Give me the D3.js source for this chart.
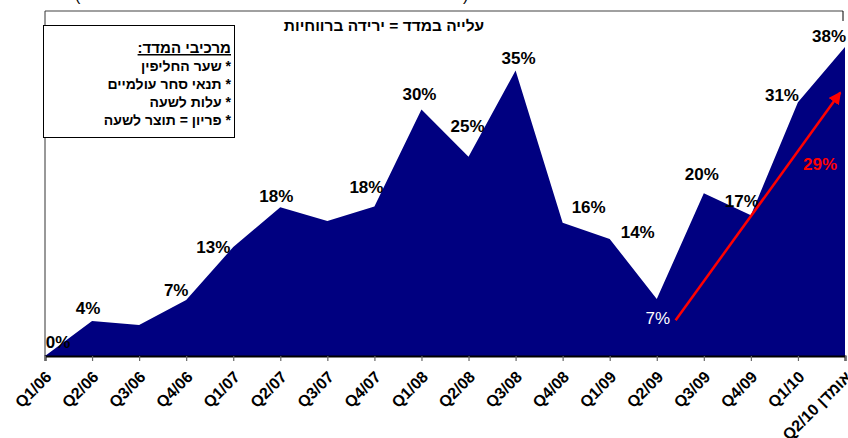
<!DOCTYPE html>
<html>
<head>
<meta charset="utf-8">
<script src="https://cdn.jsdelivr.net/npm/d3@7"></script>
<style>
  html, body { margin: 0; padding: 0; background: #fff; overflow: hidden; }
  svg { display: block; font-family: "Liberation Sans", Arial, "DejaVu Sans", sans-serif; }
</style>
</head>
<body>
<div id="chart"></div>
<script>
// quarters on the x axis
var categories = ['Q1/06','Q2/06','Q3/06','Q4/06','Q1/07','Q2/07','Q3/07','Q4/07',
   'Q1/08','Q2/08','Q3/08','Q4/08','Q1/09','Q2/09','Q3/09','Q4/09','Q1/10','Q2/10 אומדן'];
// index values (%)
var values = [0, 4.3, 3.8, 6.9, 13.4, 18.3, 16.6, 18.4, 30.3, 24.5, 35.1, 16.4, 14.4, 7.0, 20.0, 17.3, 31.2, 38.0];
// printed labels ('' = none shown)
var dataLabels = ['0%','4%','','7%','13%','18%','','18%','30%','25%','35%','16%','14%','7%','20%','17%','31%','38%'];
var legendLines = ['מרכיבי המדד:', '* שער החליפין', '* תנאי סחר עולמיים', '* עלות לשעה', '* פריון = תוצר לשעה'];
var title = 'עלייה במדד = ירידה ברווחיות';
// arrow annotation, in data units (category index, %)
var arrowFrom = [13.4, 4.4], arrowTo = [16.9, 32.4];
var arrowText = '29%', arrowTextAt = [16.47, 23.5];

// label nudges in px (Excel hand placed them)
var nudge = [[13,-14],[-4,-13],[0,0],[-10,-9],[-20,0],[-4,-11],[0,0],[-8,-19],[-2,-15],[-1,-30],
   [3,-12],[26,-15],[28,-6],[1,19],[-2,-19],[-9,-14],[-16,-7],[-16,-11]];

var width = 848, height = 438;
var svg = d3.select('#chart').append('svg')
   .attr('width', width)
   .attr('height', height);

var x = d3.scaleLinear().domain([0, categories.length - 1]).range([45, 845]);
var y = d3.scaleLinear().domain([0, 38]).range([356, 47]);
var plotTop = 11;

// clipped line of text above the chart (only parentheses visible)
svg.append('text').attr('x', 75).attr('y', 1).style('font-size', '16px').text('(');
svg.append('text').attr('x', 463).attr('y', 1).style('font-size', '16px').text(')');

// plot frame
svg.append('line')
   .attr('x1', x(0)).attr('x2', x(categories.length - 1) - 2)
   .attr('y1', plotTop).attr('y2', plotTop)
   .attr('stroke', '#808080').attr('stroke-width', 1.5);
svg.append('line')
   .attr('x1', x(categories.length - 1) - 2).attr('x2', x(categories.length - 1) - 2)
   .attr('y1', plotTop).attr('y2', plotTop + 10)
   .attr('stroke', '#000').attr('stroke-width', 1);
svg.append('line')
   .attr('x1', x(0)).attr('x2', x(0))
   .attr('y1', plotTop).attr('y2', y(0))
   .attr('stroke', '#333').attr('stroke-width', 1);

// area
var area = d3.area()
   .x(function(d, i){ return x(i); })
   .y0(y(0))
   .y1(function(d){ return y(d); });
svg.append('path')
   .datum(values)
   .attr('d', area)
   .attr('fill', '#000080');

// x axis
var axis = d3.axisBottom(x)
   .tickValues(d3.range(categories.length))
   .tickFormat(function(i){ return categories[i]; })
   .tickSize(5)
   .tickPadding(0);
var gx = svg.append('g')
   .attr('transform', 'translate(0,' + y(0) + ')')
   .call(axis);
gx.select('.domain').attr('stroke', '#000').attr('stroke-width', 2);
gx.selectAll('.tick line').attr('stroke', '#666').attr('stroke-width', 1.2);
gx.selectAll('.tick text')
   .attr('fill', '#000')
   .style('font-size', '16px')
   .style('font-weight', 'bold')
   .attr('text-anchor', 'end')
   .attr('dy', null)
   .attr('y', 0)
   .attr('transform', 'translate(7,22) rotate(-45)');

// data labels
svg.selectAll('.dlabel')
   .data(values)
   .enter()
   .append('text')
   .attr('class', 'dlabel')
   .attr('x', function(d, i){ return x(i) + nudge[i][0]; })
   .attr('y', function(d, i){ return y(d) + nudge[i][1]; })
   .attr('text-anchor', 'middle')
   .attr('dominant-baseline', 'central')
   .style('font-size', '17px')
   .style('font-weight', function(d, i){ return i === 13 ? 'normal' : 'bold'; })
   .attr('fill', function(d, i){ return i === 13 ? '#fff' : '#000'; })
   .text(function(d, i){ return dataLabels[i]; });

// arrow
var defs = svg.append('defs');
defs.append('marker')
   .attr('id', 'head')
   .attr('viewBox', '0 0 10 10')
   .attr('refX', 9).attr('refY', 5)
   .attr('markerWidth', 5).attr('markerHeight', 5)
   .attr('orient', 'auto')
   .append('path')
   .attr('d', 'M0,0 L10,5 L0,10 z')
   .attr('fill', '#ff0000');
svg.append('line')
   .attr('x1', x(arrowFrom[0])).attr('y1', y(arrowFrom[1]))
   .attr('x2', x(arrowTo[0])).attr('y2', y(arrowTo[1]))
   .attr('stroke', '#ff0000')
   .attr('stroke-width', 2.5)
   .attr('marker-end', 'url(#head)');
svg.append('text')
   .attr('x', x(arrowTextAt[0])).attr('y', y(arrowTextAt[1]))
   .attr('text-anchor', 'middle')
   .attr('dominant-baseline', 'central')
   .style('font-size', '17px')
   .style('font-weight', 'bold')
   .attr('fill', '#ff0000')
   .text(arrowText);

// title
svg.append('text')
   .attr('x', 384).attr('y', 31)
   .attr('text-anchor', 'middle')
   .style('font-size', '15.5px')
   .style('font-weight', 'bold')
   .attr('direction', 'rtl')
   .text(title);

// legend box
var legend = svg.append('g');
legend.append('rect')
   .attr('x', 43.5).attr('y', 25.5)
   .attr('width', 191).attr('height', 112)
   .attr('fill', '#fff')
   .attr('stroke', '#000');
legend.selectAll('text')
   .data(legendLines)
   .enter()
   .append('text')
   .attr('x', 231)
   .attr('y', function(d, i){ return 53 + i * 18; })
   .attr('direction', 'rtl')
   .attr('text-anchor', 'start')
   .style('font-size', function(d, i){ return i === 0 ? '15px' : '14px'; })
   .style('font-weight', 'bold')
   .style('text-decoration', function(d, i){ return i === 0 ? 'underline' : 'none'; })
   .text(function(d){ return d; });
</script>
</body>
</html>
